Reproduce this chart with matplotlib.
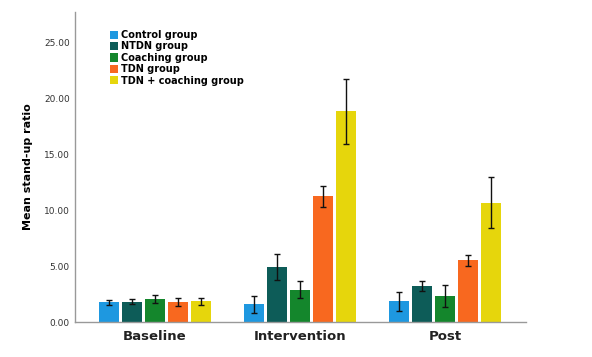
import matplotlib.pyplot as plt
import numpy as np

phases = ["Baseline", "Intervention", "Post"]
groups = ["Control group", "NTDN group", "Coaching group", "TDN group", "TDN + coaching group"]
colors = ["#1e98e0", "#0d5c58", "#14862c", "#f8681f", "#e6d60c"]

# mean stand-up ratio per group, one value per phase
means = [
    [1.75, 1.60, 1.85],
    [1.80, 4.90, 3.22],
    [2.05, 2.90, 2.32],
    [1.80, 11.25, 5.50],
    [1.85, 18.85, 10.65],
]
errs = [
    [0.25, 0.77, 0.83],
    [0.22, 1.15, 0.45],
    [0.35, 0.78, 0.95],
    [0.38, 0.93, 0.53],
    [0.33, 2.90, 2.28],
]

fig = plt.figure(figsize=(5.92, 3.57), dpi=100)
ax = fig.add_axes([0.127, 0.098, 0.762, 0.868])

x = np.arange(len(phases))
width = 0.138
step = 0.159
for i in range(len(groups)):
    pos = x + (i - 2) * step
    ax.bar(pos, means[i], width, color=colors[i], label=groups[i],
           yerr=errs[i], capsize=2.2,
           error_kw=dict(elinewidth=1.0, capthick=1.0, ecolor="#111111"))

ax.set_xlim(-0.55, 2.56)
ax.set_ylim(0, 27.7)
ax.set_yticks([0, 5, 10, 15, 20, 25])
ax.set_yticklabels(["%.2f" % v for v in [0, 5, 10, 15, 20, 25]],
                   fontsize=6.5, color="#333333")
ax.set_xticks(x)
ax.set_xticklabels(phases, fontsize=9.5, fontweight="bold", color="#222222")
ax.tick_params(axis="both", length=0, pad=4)
ax.tick_params(axis="x", pad=6)
ax.set_ylabel("Mean stand-up ratio", fontsize=8, fontweight="bold", labelpad=8)

for s in ["top", "right"]:
    ax.spines[s].set_visible(False)
for s in ["left", "bottom"]:
    ax.spines[s].set_color("#999999")
    ax.spines[s].set_linewidth(1.0)

leg = ax.legend(loc="upper left", bbox_to_anchor=(0.068, 0.955), frameon=False,
                fontsize=7, handlelength=0.9, handleheight=0.9,
                handletextpad=0.3, labelspacing=0.15, borderaxespad=0)
for t in leg.get_texts():
    t.set_fontweight("semibold")

plt.savefig("out.png", dpi=100)
